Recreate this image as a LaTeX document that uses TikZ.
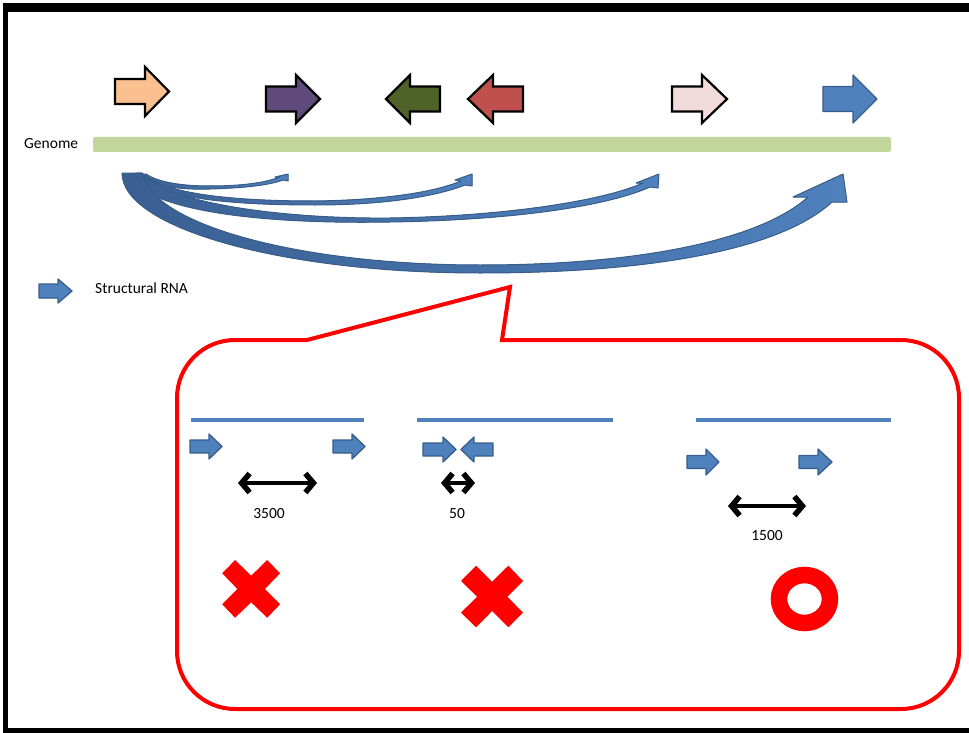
\documentclass[tikz,border=0pt]{standalone}
\usepackage{fontspec}
\setmainfont{Carlito}
\usetikzlibrary{arrows.meta}
\definecolor{peach}{HTML}{FAC090}
\definecolor{plum}{HTML}{604A7B}
\definecolor{olive}{HTML}{4F6228}
\definecolor{brick}{HTML}{C0504D}
\definecolor{blush}{HTML}{F2DCDB}
\definecolor{accblue}{HTML}{4F81BD}
\definecolor{edgeblue}{HTML}{385D8A}
\definecolor{darkblue}{HTML}{3A5F92}
\definecolor{genome}{HTML}{C3D69B}
\definecolor{pure red}{HTML}{FF0000}
\newcommand\blkarrow[7]{\filldraw[#1] ({#2},{#5-#6}) -- ({#3},{#5-#6}) -- ({#3},{#5-#7}) -- ({#4},{#5}) -- ({#3},{#5+#7}) -- ({#3},{#5+#6}) -- ({#2},{#5+#6}) -- cycle;}
\tikzset{
  gene/.style={draw=black, line width=2.2pt, line join=miter},
  rna/.style={fill=accblue, draw=edgeblue, line width=1.3pt, line join=round},
  curvearrow/.style={left color=darkblue, right color=accblue, draw=edgeblue, line width=1pt, line join=round},
  lbl/.style={inner sep=0pt, font=\fontsize{15.5}{18}\selectfont},
  barb/.tip={Straight Barb[length=8pt,width=19pt,line width=5.5pt]},
  dist/.style={line width=3.6pt, barb-barb},
  seq/.style={accblue, line width=4pt},
  verdict/.style={fill=pure red},
}
\begin{document}
\begin{tikzpicture}[x=1pt,y=-1pt]
\useasboundingbox (0,0) rectangle (969,733);
% frame
\fill[black] (3,3) rectangle (969,12);
\fill[black] (3,3) rectangle (8,733);
\fill[black] (3,728) rectangle (969,733);

% genes
\blkarrow{gene, fill=peach}{115}{145}{169}{91.5}{12.5}{24.5}
\blkarrow{gene, fill=plum}{266}{296}{320}{99}{12.5}{24}
\blkarrow{gene, fill=olive}{440}{410}{386}{99}{12.5}{24}
\blkarrow{gene, fill=brick}{523}{493}{468}{99}{12.5}{24}
\blkarrow{gene, fill=blush}{672}{702}{727}{99}{12.5}{24}
\blkarrow{rna}{823}{853}{877}{99}{12.5}{24}

% genome
\fill[genome, rounded corners=2pt] (93,137) rectangle (891,152);
\node[lbl, anchor=west] (genomelbl) at (24,144) {Genome};

% curved arrows
\filldraw[curvearrow] (134,175) .. controls (150,186) and (180,190) .. (210,189)
  .. controls (245,188) and (270,185) .. (283,180) -- (288,181) -- (288,174) -- (275,177) -- (280,177)
  .. controls (265,183) and (240,186) .. (210,186) .. controls (180,186) and (158,182) .. (146,174) -- cycle;
\filldraw[curvearrow] (130,174) .. controls (160,200) and (240,205) .. (315,205)
  .. controls (390,205) and (440,195) .. (465,185) -- (472,186) -- (472,174) -- (455,180) -- (461,181)
  .. controls (435,192) and (385,200) .. (315,201) .. controls (245,201) and (165,196) .. (142,173) -- cycle;
\filldraw[curvearrow] (126,174) .. controls (150,215) and (280,224) .. (390,222)
  .. controls (520,220) and (610,205) .. (650,187) -- (658,188) -- (659,174) -- (636,183) -- (643,183)
  .. controls (605,200) and (510,216) .. (390,218) .. controls (290,219) and (170,205) .. (140,173) -- cycle;
\filldraw[curvearrow] (122,173) .. controls (122,228) and (282,273) .. (480,273)
  .. controls (650,273) and (780,250) .. (832,202) -- (847,202) -- (843,174) -- (793,197) -- (808,197)
  .. controls (760,240) and (640,265) .. (480,265) .. controls (300,265) and (152,225) .. (142,173) -- cycle;

% legend
\blkarrow{rna}{39}{58}{72}{291}{7}{12}
\node[lbl, anchor=west] (legendlbl) at (95,288) {Structural RNA};

% callout
\draw[pure red, line width=4pt, line join=miter]
  (502,340) -- (901,340) arc[start angle=-90, end angle=0, radius=58]
  -- (959,651) arc[start angle=0, end angle=90, radius=58]
  -- (235,709) arc[start angle=90, end angle=180, radius=58]
  -- (177,398) arc[start angle=180, end angle=270, radius=58]
  -- (307,340) -- (510,287) -- cycle;

% case 1
\draw[seq] (191,420) -- (364,420);
\blkarrow{rna}{190}{209}{222}{446.5}{6.5}{12.5}
\blkarrow{rna}{333}{352}{365}{446.5}{6.5}{12.5}
\coordinate (d1a) at (238,483); \coordinate (d1b) at (317,483);
\draw[dist] (d1a) -- (d1b);
\node[lbl] (n3500) at (269,514) {3500};
\fill[verdict] (222.2,573.3) -- (235.1,560) -- (251.2,575.7) -- (267.2,560) -- (280.1,573.3) -- (264.9,589)
  -- (280.1,604.3) -- (267.2,617.7) -- (251.2,602.3) -- (235.1,617.7) -- (222.2,604.3) -- (237.4,589) -- cycle;

% case 2
\draw[seq] (417,420) -- (613,420);
\blkarrow{rna}{423}{443}{456}{449.5}{6.5}{12.5}
\blkarrow{rna}{493}{474}{461}{449.5}{6.5}{12.5}
\coordinate (d2a) at (441,483); \coordinate (d2b) at (475,483);
\draw[dist] (d2a) -- (d2b);
\node[lbl] (n50) at (457,514) {50};
\fill[verdict] (461,581) -- (476.1,565.7) -- (492.2,581.7) -- (508.3,565.7) -- (523,581) -- (507.4,596.7)
  -- (523,612.7) -- (508.3,627.3) -- (492.2,611) -- (476.1,627.3) -- (461,612.7) -- (477.1,596.7) -- cycle;

% case 3
\draw[seq] (696,420) -- (891,420);
\blkarrow{rna}{687}{706}{719}{462}{6.5}{13}
\blkarrow{rna}{799}{818}{832}{462}{6.5}{13}
\coordinate (d3a) at (728,506); \coordinate (d3b) at (806,506);
\draw[dist] (d3a) -- (d3b);
\node[lbl] (n1500) at (767,536) {1500};
\draw[pure red, line width=16.5pt] (804.5,599) circle[x radius=25.5, y radius=24];
\end{tikzpicture}
\end{document}
